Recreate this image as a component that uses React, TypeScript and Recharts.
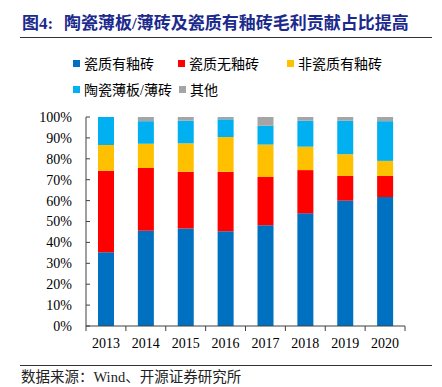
import { BarChart, Bar, XAxis, YAxis } from 'recharts';

const years = ['2013', '2014', '2015', '2016', '2017', '2018', '2019', '2020'];
const glazedPorcelain = [35.3, 45.6, 46.6, 45.3, 48.2, 53.9, 60.0, 61.7];
const unglazedPorcelain = [39.0, 30.0, 27.2, 28.5, 23.1, 20.7, 11.8, 10.1];
const glazedNonPorcelain = [12.3, 11.6, 13.6, 16.6, 15.5, 11.2, 10.4, 7.2];
const thinTiles = [13.4, 10.8, 10.8, 8.5, 9.0, 12.4, 16.0, 19.0];
const others = [0, 2.0, 1.8, 1.1, 4.2, 1.8, 1.8, 2.0];
const yTicks = [0, 10, 20, 30, 40, 50, 60, 70, 80, 90, 100];

const series = [
  { key: 'a', name: '瓷质有釉砖', color: '#0070C0', values: glazedPorcelain },
  { key: 'b', name: '瓷质无釉砖', color: '#FF0000', values: unglazedPorcelain },
  { key: 'c', name: '非瓷质有釉砖', color: '#FFC000', values: glazedNonPorcelain },
  { key: 'd', name: '陶瓷薄板/薄砖', color: '#00B0F0', values: thinTiles },
  { key: 'e', name: '其他', color: '#A5A5A5', values: others },
];

const data = years.map((y, i) => {
  const row: any = { year: y };
  series.forEach((s) => (row[s.key] = s.values[i]));
  return row;
});

const W = 442;
const H = 387;
const plotLeft = 86;
const plotRight = 405;
const plotTop = 117;
const plotBottom = 326;
const band = (plotRight - plotLeft) / years.length;
const serif = '"Liberation Serif", "Times New Roman", serif';
const cjk = '"Liberation Serif", "Noto Sans CJK SC", sans-serif';

// legend slots, two rows
const legendPos = [
  { x: 73, y: 63 },
  { x: 178, y: 63 },
  { x: 287, y: 63 },
  { x: 73, y: 89 },
  { x: 179, y: 89 },
];

function LegendBox() {
  return (
    <>
      {series.map((s, i) => (
        <div
          key={s.key}
          style={{
            position: 'absolute',
            left: legendPos[i].x,
            top: legendPos[i].y - 8,
            display: 'flex',
            alignItems: 'center',
            height: 16,
            fontFamily: cjk,
            fontSize: 14,
            color: '#000',
            whiteSpace: 'nowrap',
          }}
        >
          <span style={{ width: 7, height: 7, background: s.color, marginRight: 4, display: 'inline-block' }} />
          {s.name}
        </div>
      ))}
    </>
  );
}

const XTick = (props: any) => {
  const { x, y, payload, index } = props;
  const axisY = y - 12;
  return (
    <g>
      <line x1={x - band / 2} x2={x - band / 2} y1={axisY} y2={axisY + 5} stroke="#404040" />
      {index === years.length - 1 && (
        <line x1={x + band / 2} x2={x + band / 2} y1={axisY} y2={axisY + 5} stroke="#404040" />
      )}
      <text x={x} y={y} dy="0.71em" textAnchor="middle" fontFamily={serif} fontSize={14} fill="#000">
        {payload.value}
      </text>
    </g>
  );
};

const YTick = (props: any) => {
  const { x, y, payload } = props;
  const axisX = x + 14;
  return (
    <g>
      <line x1={axisX} x2={axisX + 4} y1={y} y2={y} stroke="#404040" />
      <text x={x} y={y} dy="0.355em" textAnchor="end" fontFamily={serif} fontSize={14} fill="#000">
        {payload.value + '%'}
      </text>
    </g>
  );
};

export default function App() {
  return (
    <div style={{ position: 'absolute', left: 0, top: 0, width: W, height: H, background: '#fff' }}>
      <div
        style={{
          position: 'absolute',
          left: 22,
          top: 14,
          fontFamily: cjk,
          fontWeight: 'bold',
          fontSize: 17,
          color: '#1B2A8C',
          whiteSpace: 'nowrap',
          lineHeight: '20px',
        }}
      >
        图4:
      </div>
      <div
        style={{
          position: 'absolute',
          left: 64,
          top: 14,
          fontFamily: cjk,
          fontWeight: 'bold',
          fontSize: 17,
          color: '#1B2A8C',
          whiteSpace: 'nowrap',
          lineHeight: '20px',
        }}
      >
        陶瓷薄板/薄砖及瓷质有釉砖毛利贡献占比提高
      </div>
      <div style={{ position: 'absolute', left: 20, top: 37, width: 412, height: 1, background: '#333' }} />

      <LegendBox />

      <div style={{ position: 'absolute', left: 0, top: 0 }}>
        <BarChart
          width={W}
          height={H}
          data={data}
          barSize={16}
          margin={{ top: plotTop, right: W - plotRight, bottom: H - plotBottom - 30, left: 0 }}
        >
          <XAxis
            dataKey="year"
            height={30}
            tickSize={0}
            tickMargin={12}
            tickLine={false}
            axisLine={{ stroke: '#404040' }}
            tick={<XTick />}
            interval={0}
          />
          <YAxis
            width={plotLeft}
            domain={[0, 100]}
            ticks={yTicks}
            tickSize={0}
            tickMargin={14}
            tickLine={false}
            axisLine={{ stroke: '#404040' }}
            tick={<YTick />}
            interval={0}
          />
          {series.map((s) => (
            <Bar key={s.key} dataKey={s.key} name={s.name} stackId="s" fill={s.color} isAnimationActive={false} />
          ))}
        </BarChart>
      </div>

      <div style={{ position: 'absolute', left: 20, top: 365, width: 412, height: 1, background: '#333' }} />
      <div
        style={{
          position: 'absolute',
          left: 21,
          top: 369,
          fontFamily: cjk,
          fontSize: 14.5,
          color: '#222',
          whiteSpace: 'nowrap',
          lineHeight: '17px',
        }}
      >
        数据来源：Wind、开源证券研究所
      </div>
    </div>
  );
}
